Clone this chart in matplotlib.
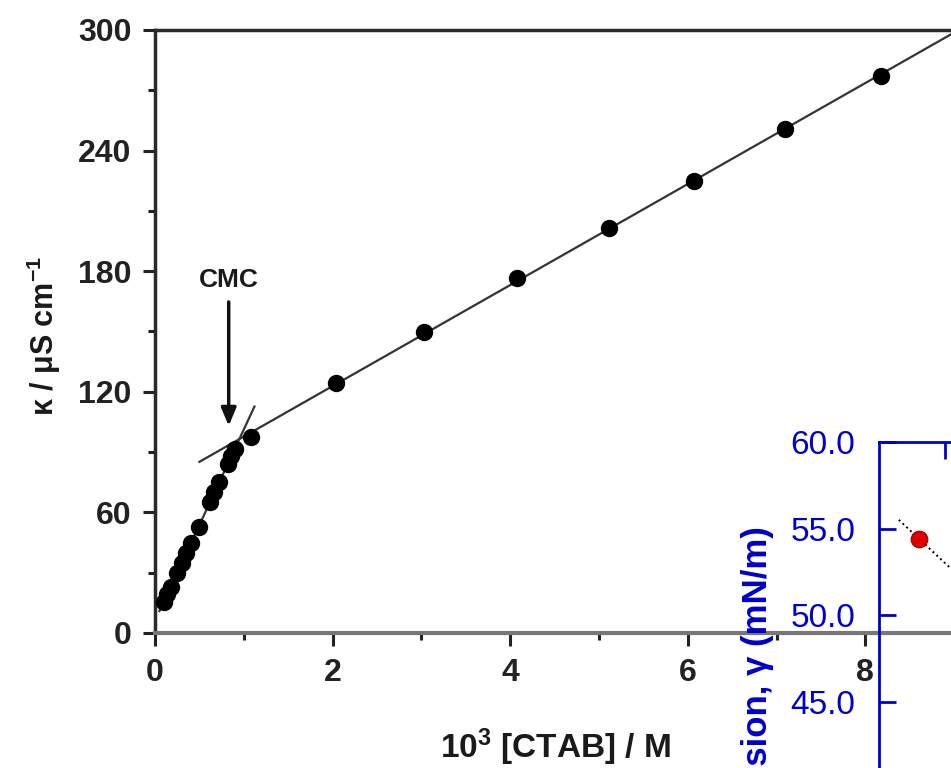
import numpy as np
import matplotlib
matplotlib.use("Agg")
from matplotlib import pyplot as plt

plt.rcParams['font.family'] = ['Liberation Sans', 'DejaVu Sans']
plt.rcParams['font.weight'] = 'bold'
plt.rcParams['axes.labelweight'] = 'bold'
plt.rcParams['mathtext.fontset'] = 'custom'
plt.rcParams['mathtext.rm'] = 'Liberation Sans:bold'
plt.rcParams['mathtext.it'] = 'Liberation Sans:bold'
plt.rcParams['mathtext.bf'] = 'Liberation Sans:bold'
plt.rcParams['mathtext.default'] = 'rm'

# conductivity below the CMC (10^3 [CTAB] / M, uS/cm)
pre_x = [0.10, 0.14, 0.18, 0.25, 0.30, 0.35, 0.41, 0.49, 0.62, 0.67, 0.72, 0.82, 0.86, 0.90]
pre_y = [15.5, 19.5, 23.0, 30.0, 35.0, 40.0, 45.0, 52.5, 65.0, 70.0, 75.0, 84.0, 88.0, 91.5]
# conductivity above the CMC
post_x = [1.08, 2.04, 3.03, 4.08, 5.11, 6.07, 7.09, 8.18]
post_y = [97.5, 124.4, 149.8, 176.6, 201.5, 224.9, 250.7, 277.1]
cmc_x = 0.83

# surface tension inset (only a corner of it is in view)
st_x = [0.6]
st_y = [54.4]
st_fit_x = [0.3, 4.0]
st_fit_y = [55.5, 42.3]
st_ticks = [40, 45, 50, 55, 60]

BLUE = '#0000cc'
INK = '#1a1a1a'

fig = plt.figure(figsize=(9.51, 7.68), dpi=100)
W, H = 951.0, 768.0

# main axes, right part runs off the picture
ax = fig.add_axes([155 / W, 1 - 633 / H, 888 / W, 603 / H])
ax.set_xlim(0, 10)
ax.set_ylim(0, 300)

p1 = np.polyfit(pre_x, pre_y, 1)
p2 = np.polyfit(post_x, post_y, 1)
xs1 = np.linspace(0.05, 1.12, 20)
xs2 = np.linspace(0.5, 9.5, 50)
ax.plot(xs1, np.polyval(p1, xs1), color='#333333', lw=1.6, zorder=2)
ax.plot(xs2, np.polyval(p2, xs2), color='#333333', lw=1.6, zorder=2)
ax.plot(pre_x, pre_y, 'o', color='black', ms=11.5, zorder=3)
ax.plot(post_x, post_y, 'o', color='black', ms=11.5, zorder=3)

ax.annotate('CMC', xy=(cmc_x, 103), xytext=(cmc_x, 175.5), ha='center', va='center',
            fontsize=19, color=INK,
            arrowprops=dict(arrowstyle='-|>,head_length=0.6,head_width=0.25',
                            mutation_scale=18, lw=2.5, color='#111111',
                            shrinkA=5, shrinkB=0))

ax.set_yticks([0, 60, 120, 180, 240, 300])
ax.set_yticks([30, 90, 150, 210, 270], minor=True)
ax.set_xticks([0, 2, 4, 6, 8])
ax.set_xticks([1, 3, 5, 7, 9], minor=True)
ax.tick_params(axis='both', which='major', direction='out', length=9, width=2.2,
               labelsize=23, colors='#222222')
ax.tick_params(axis='both', which='minor', direction='out', length=5, width=2.2,
               colors='#222222')
ax.tick_params(axis='y', which='major', pad=8)
ax.tick_params(axis='x', which='major', pad=9)

for s in ['left', 'top']:
    ax.spines[s].set_linewidth(2.5)
    ax.spines[s].set_color('#2a2a2a')
ax.spines['bottom'].set_linewidth(3)
ax.spines['bottom'].set_color('#777777')
ax.spines['right'].set_visible(False)

ax.set_xlabel(r'10$^3$ [CTAB] / M', fontsize=24, fontweight='bold', color=INK)
ax.set_ylabel(r'κ / μS cm$^{-1}$', fontsize=22, fontweight='bold', color=INK)
ax.xaxis.set_label_coords((555 - 155) / 888, -(727 - 633) / 603)
ax.yaxis.set_label_coords(-(155 - 63) / 888, (633 - 336) / 603)

# inset axes, pasted over the lower right corner
ppu_y = 17.3
ppu_x = 66.0
h2 = 25 * ppu_y
ax2 = fig.add_axes([879 / W, (1 - 442 / H) - h2 / H, 5 * ppu_x / W, h2 / H])
ax2.patch.set_alpha(0)
ax2.set_xlim(0, 5)
ax2.set_ylim(35, 60)
ax2.plot(st_fit_x, st_fit_y, ':', color='black', lw=1.4, zorder=2)
ax2.plot(st_x, st_y, 'o', color='#dd0000', mec='#990000', mew=0.8, ms=12, zorder=3)

# the 40.0 label sits below the picture edge, so it is left blank
ax2.set_yticks(st_ticks)
ax2.set_yticklabels(['' if v < 45 else '%.1f' % v for v in st_ticks])
ax2.xaxis.tick_top()
ax2.set_xticks([1, 2, 3, 4])
ax2.tick_params(axis='x', which='both', direction='in', length=12, width=2,
                colors=BLUE, labeltop=False, labelbottom=False)
ax2.tick_params(axis='y', which='both', direction='in', length=12, width=2,
                colors=BLUE, labelsize=24, pad=17)
for lab in ax2.get_yticklabels():
    lab.set_fontweight('normal')
for s in ['left', 'top', 'right', 'bottom']:
    ax2.spines[s].set_linewidth(2)
    ax2.spines[s].set_color(BLUE)

fig.text(757 / W, 1 - 526 / H, 'Surface tension, γ (mN/m)', rotation=90,
         ha='center', va='top', fontsize=25, fontweight='bold', color=BLUE)

fig.savefig('out.png', dpi=100)
